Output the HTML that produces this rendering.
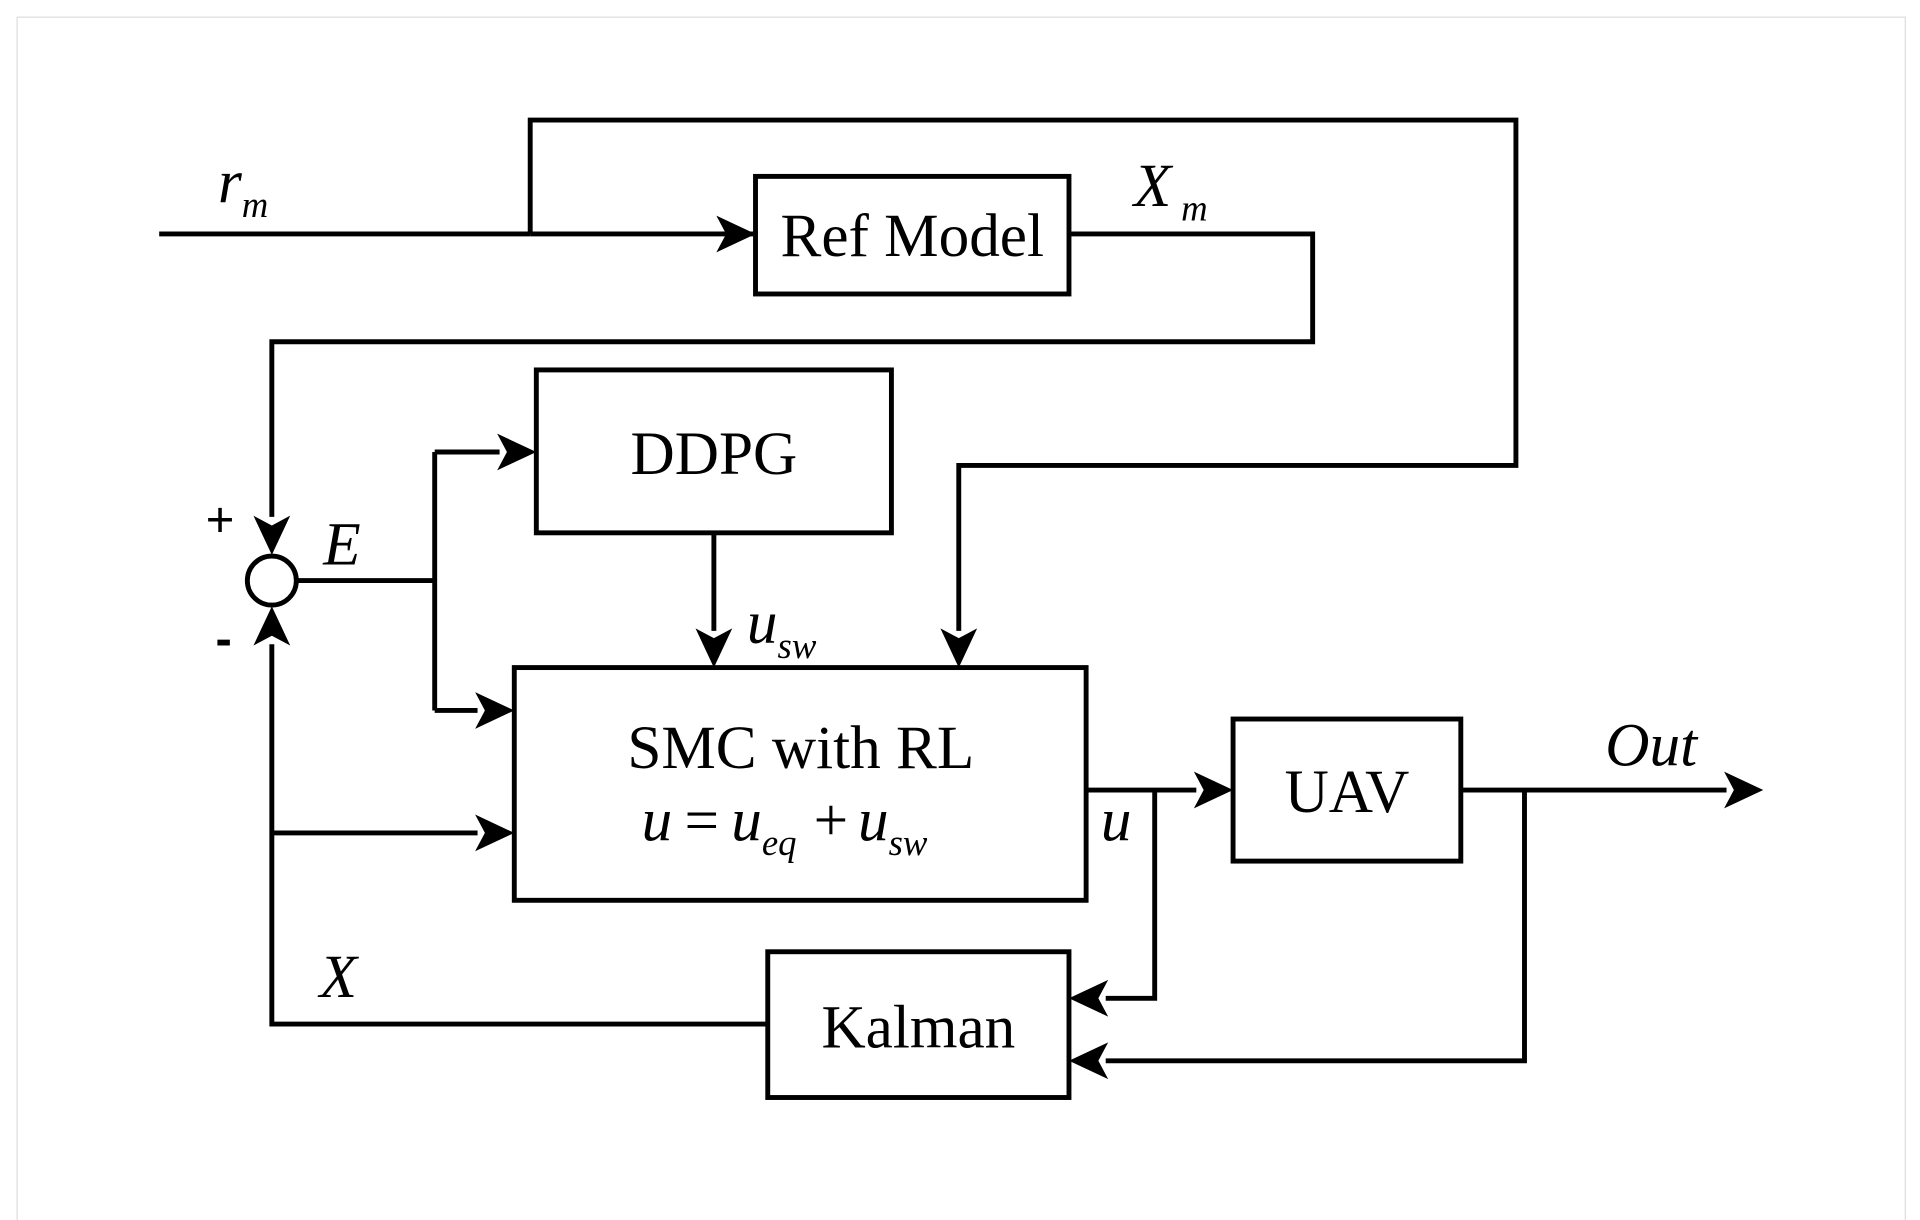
<!DOCTYPE html>
<html><head><meta charset="utf-8"><style>html,body{margin:0;padding:0;background:#fff}svg{display:block}</style></head><body>
<svg width="1920" height="1220" viewBox="0 0 1568 996" preserveAspectRatio="none" xmlns="http://www.w3.org/2000/svg" font-family="Liberation Serif, serif">
<style>.l{fill:none;stroke:#000;stroke-width:4}</style>
<rect x="14" y="14" width="1542" height="985" fill="none" stroke="#ddd" stroke-width="1"/>
<g class="l" stroke-linejoin="miter">
<polyline points="130,191 433,191"/>
<line x1="433" y1="191" x2="615" y2="191"/>
<polyline points="433,191 433,98 1238,98 1238,380 783,380 783,515"/>
<polyline points="873,191 1072,191 1072,279 222,279 222,422"/>
<polyline points="242,474 355,474"/>
<polyline points="355,369 355,580"/>
<line x1="355" y1="369" x2="408" y2="369"/>
<line x1="355" y1="580" x2="390" y2="580"/>
<line x1="583" y1="435" x2="583" y2="515"/>
<line x1="887" y1="645" x2="977" y2="645"/>
<polyline points="943,645 943,815 903,815"/>
<line x1="1193" y1="645" x2="1410" y2="645"/>
<polyline points="1245,645 1245,866 903,866"/>
<polyline points="627,836 222,836 222,526"/>
<line x1="222" y1="680" x2="390" y2="680"/>
<rect x="617" y="144" width="256" height="96"/>
<rect x="438" y="302" width="290" height="133"/>
<rect x="420" y="545" width="467" height="190"/>
<rect x="1007" y="587" width="186" height="116"/>
<rect x="627" y="777" width="246" height="119"/>
<circle cx="222" cy="474" r="20"/>
</g>
<g fill="#000">
<path d="M617,191 l-32,-15 l8,15 l-8,15z"/>
<path d="M222,453 l-15,-32 l15,8 l15,-8z"/>
<path d="M222,495 l-15,32 l15,-8 l15,8z"/>
<path d="M438,369 l-32,-15 l8,15 l-8,15z"/>
<path d="M420,580 l-32,-15 l8,15 l-8,15z"/>
<path d="M420,680 l-32,-15 l8,15 l-8,15z"/>
<path d="M583,545 l-15,-32 l15,8 l15,-8z"/>
<path d="M783,545 l-15,-32 l15,8 l15,-8z"/>
<path d="M1007,645 l-32,-15 l8,15 l-8,15z"/>
<path d="M1440,645 l-32,-15 l8,15 l-8,15z"/>
<path d="M873,815 l32,-15 l-8,15 l8,15z"/>
<path d="M873,866 l32,-15 l-8,15 l8,15z"/>
</g>
<g font-size="50" text-anchor="middle">
<text x="745" y="209">Ref Model</text>
<text x="583" y="387">DDPG</text>
<text x="654" y="627">SMC with RL</text>
<text x="1100" y="663">UAV</text>
<text x="750" y="855">Kalman</text>
</g>
<g font-size="50" font-style="italic">
<text x="178" y="165">r<tspan font-size="30" dy="12">m</tspan></text>
<text x="926" y="168">X<tspan font-size="30" dx="8" dy="12">m</tspan></text>
<text x="264" y="461">E</text>
<text x="610" y="525">u<tspan font-size="30" dy="12">sw</tspan></text>
<text x="899" y="686">u</text>
<text x="1311" y="625">Out</text>
<text x="261" y="814">X</text>
<text x="524" y="686">u<tspan font-style="normal" dx="10">=</tspan><tspan dx="10">u</tspan><tspan font-size="30" dy="12">eq</tspan><tspan font-style="normal" dx="14" dy="-12">+</tspan><tspan dx="8">u</tspan><tspan font-size="30" dy="12">sw</tspan></text>
</g>
<g font-size="40" font-family="Liberation Sans, sans-serif">
<text x="168" y="438">+</text>
<text x="176" y="535" font-weight="bold">-</text>
</g>
</svg>
</body></html>
